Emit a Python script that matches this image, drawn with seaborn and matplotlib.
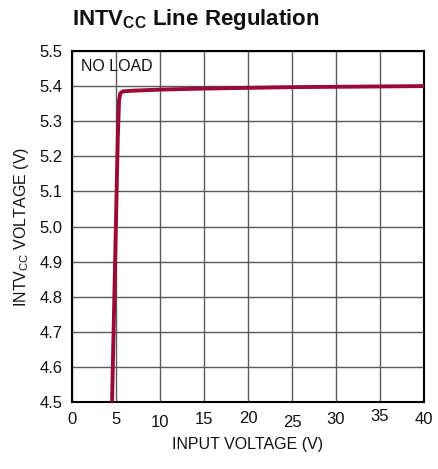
import matplotlib
matplotlib.use("Agg")
import matplotlib.pyplot as plt
import seaborn as sns
import pandas as pd
import matplotlib.transforms as mtransforms

input_v = [4.55, 4.9, 5.2, 5.35, 5.5, 5.8, 7, 10, 15, 20, 25, 30, 35, 40]
intvcc_v = [4.5, 4.9, 5.25, 5.36, 5.38, 5.385, 5.387, 5.39, 5.393, 5.395, 5.397, 5.398, 5.399, 5.40]
x_ticks = [0, 5, 10, 15, 20, 25, 30, 35, 40]
y_ticks = [4.5, 4.6, 4.7, 4.8, 4.9, 5.0, 5.1, 5.2, 5.3, 5.4, 5.5]

df = pd.DataFrame({"vin": input_v, "vcc": intvcc_v})

sns.set_theme(style="white")
plt.rcParams['font.family'] = ['Liberation Sans', 'DejaVu Sans']
plt.rcParams['mathtext.default'] = 'regular'

fig = plt.figure(figsize=(4.39, 4.69), dpi=100)
ax = fig.add_axes([72/439, 1-402/469, (424-72)/439, (402-51)/469])

sns.lineplot(data=df, x="vin", y="vcc", ax=ax, color="#990a36", linewidth=2.8,
             zorder=5, solid_joinstyle="round")

ax.set_xlim(0, 40)
ax.set_ylim(4.5, 5.5)
ax.set_xticks(x_ticks)
ax.set_yticks(y_ticks)
ax.set_xticklabels([str(t) for t in x_ticks])
ax.set_yticklabels([f"{t:.1f}" for t in y_ticks])
ax.grid(True, color="#5a5a5a", linewidth=1.0)
for s in ax.spines.values():
    s.set_color("black")
    s.set_linewidth(1.5)
ax.tick_params(axis="both", which="both", length=0, labelsize=12, colors="#111111")
ax.tick_params(axis="x", pad=7)
ax.tick_params(axis="y", pad=7)

# staggered x tick labels as in reference
offsets = {10: -3, 25: -3, 35: 3, 20: 1}
for lab, t in zip(ax.get_xticklabels(), x_ticks):
    dy = offsets.get(t, 0)
    if dy:
        lab.set_transform(lab.get_transform() + mtransforms.ScaledTranslation(0, dy/100, fig.dpi_scale_trans))

ax.set_xlabel("INPUT VOLTAGE (V)", fontsize=11.5, color="#111111", labelpad=5)
ax.set_ylabel("INTV$_{CC}$ VOLTAGE (V)", fontsize=11.5, color="#111111", labelpad=6)

ax.text(1.0, 5.455, "NO LOAD", fontsize=11.5, color="#111111", va="center", ha="left", zorder=6)

fig.text(72/439, 1-20/469, "INTV$_{CC}$ Line Regulation", fontsize=16, fontweight="bold",
         ha="left", va="center", color="#111111")

fig.savefig("out.png", dpi=100, facecolor="white")
